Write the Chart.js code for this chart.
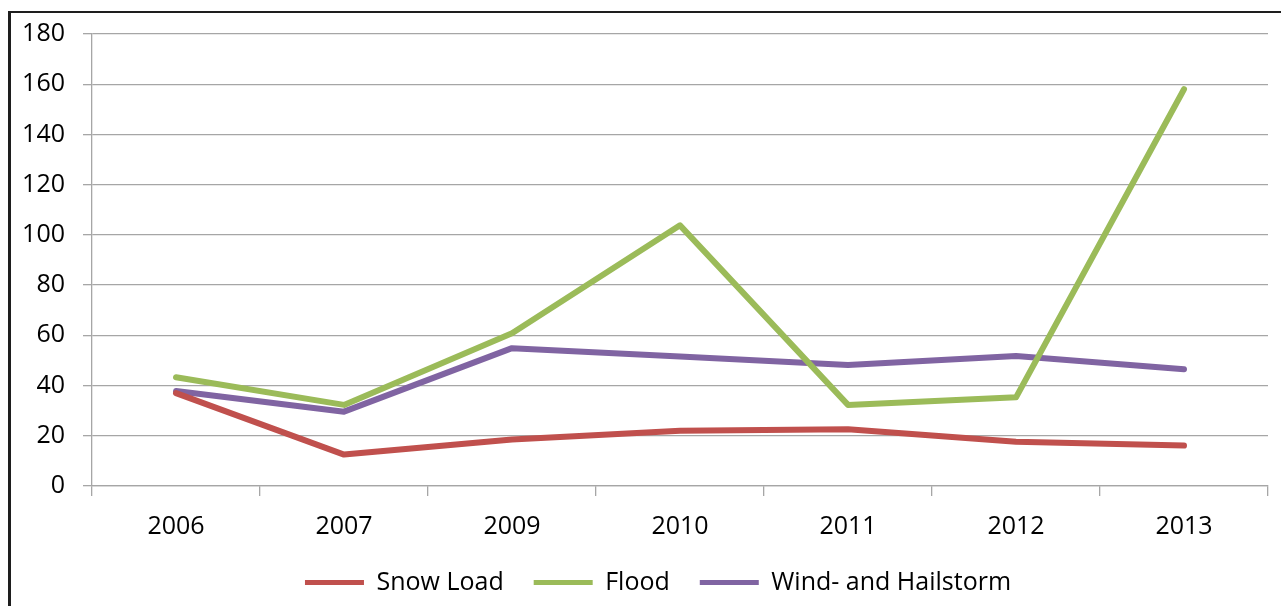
<!DOCTYPE html>
<html>
<head>
<meta charset="utf-8">
<script src="https://cdn.jsdelivr.net/npm/chart.js@4.4.1/dist/chart.umd.min.js"></script>
<style>
  html, body { margin: 0; padding: 0; background: #fff; overflow: hidden; }
  #wrap { position: relative; width: 1281px; height: 606px; }
  #frame { position: absolute; left: 8px; top: 11px; width: 2000px; height: 2000px;
           border-left: 3px solid #1e1e1e; border-top: 2.5px solid #1e1e1e; pointer-events: none; }
  canvas { position: absolute; left: 0; top: 0; }
</style>
</head>
<body>
<div id="wrap">
  <canvas id="c" width="1281" height="606"></canvas>
  <div id="frame"></div>
</div>
<script>
const categories = ['2006', '2007', '2009', '2010', '2011', '2012', '2013'];
const snowLoad = [37, 12.5, 18.5, 22, 22.6, 17.6, 16.1];
const flood = [43.3, 32.3, 60.8, 103.8, 32.3, 35.3, 158];
const windHail = [37.8, 29.6, 54.9, 51.6, 48.2, 51.8, 46.5];
const seriesNames = ['Snow Load', 'Flood', 'Wind- and Hailstorm'];
const seriesColors = ['#C0504D', '#9BBB59', '#8064A2'];
const yTicks = [0, 20, 40, 60, 80, 100, 120, 140, 160, 180];

const FONT = 'Open Sans';
const values = [snowLoad, flood, windHail];

// shift the legend block so it is centred like the original (which is centred on the wider frame)
const legendShift = {
  id: 'legendShift',
  afterLayout(chart) {
    const lg = chart.legend;
    if (lg) { lg.left += 48; }
  }
};

new Chart(document.getElementById('c'), {
  type: 'line',
  data: {
    labels: categories,
    datasets: values.map((v, i) => ({
      label: seriesNames[i],
      data: v,
      borderColor: seriesColors[i],
      backgroundColor: seriesColors[i],
      borderWidth: 6,
      pointRadius: 0,
      pointHoverRadius: 0,
      tension: 0,
      fill: false,
      borderJoinStyle: 'round',
      borderCapStyle: 'round'
    }))
  },
  plugins: [legendShift],
  options: {
    responsive: false,
    animation: false,
    devicePixelRatio: 1,
    layout: { padding: { left: 0, right: 13, top: 34, bottom: 1 } },
    plugins: {
      tooltip: { enabled: false },
      legend: {
        position: 'bottom',
        labels: {
          font: { family: FONT, size: 25 },
          color: '#000',
          boxWidth: 59,
          boxHeight: 5,
          padding: 30,
          generateLabels(chart) {
            return chart.data.datasets.map((ds, i) => ({
              text: ds.label,
              fillStyle: ds.borderColor,
              strokeStyle: ds.borderColor,
              lineWidth: 0,
              hidden: false,
              datasetIndex: i,
              fontColor: '#000'
            }));
          }
        }
      }
    },
    scales: {
      x: {
        type: 'category',
        offset: true,
        afterFit(scale) { scale.height = 54; },
        grid: {
          offset: true,
          drawOnChartArea: false,
          drawTicks: true,
          tickLength: 10,
          color: '#a6a6a6',
          lineWidth: 1.3
        },
        border: { display: true, color: '#a6a6a6', width: 1.3 },
        ticks: {
          font: { family: FONT, size: 25 },
          color: '#000',
          padding: 16,
          maxRotation: 0
        }
      },
      y: {
        min: 0,
        max: 180,
        afterBuildTicks(scale) { scale.ticks = yTicks.map(v => ({ value: v })); },
        afterFit(scale) { scale.width = 92; },
        grid: {
          color: '#a6a6a6',
          lineWidth: 1.3,
          tickLength: 9
        },
        border: { display: true, color: '#a6a6a6', width: 1.3 },
        ticks: {
          font: { family: FONT, size: 25 },
          color: '#000',
          padding: 18
        }
      }
    }
  }
});
</script>
</body>
</html>
